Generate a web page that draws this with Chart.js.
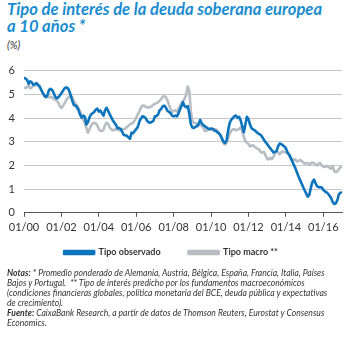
<!DOCTYPE html>
<html>
<head>
<meta charset="utf-8">
<script src="https://cdn.jsdelivr.net/npm/chart.js@4"></script>
<style>
  body { margin: 0; width: 351px; height: 338px; overflow: hidden; background: #fff; position: relative; font-family: Lato, "Open Sans", sans-serif; }
  #titulo { position: absolute; left: 7px; top: 0px; white-space: nowrap; font-weight: bold; font-style: italic; font-size: 17px; line-height: 17px; color: #1a8cd0; transform: scaleX(0.975); transform-origin: left top; }
  #unidad { position: absolute; left: 7px; top: 39px; font-style: italic; font-size: 10.5px; color: #333; }
  #grafico { position: absolute; left: 0; top: 55px; width: 351px; height: 230px; }
  #notas { position: absolute; left: 7px; top: 268px; white-space: nowrap; font-style: italic; font-size: 9.5px; line-height: 10px; color: #333; transform: scaleX(0.905); transform-origin: left top; }
</style>
</head>
<body>
<div id="titulo">Tipo de interés de la deuda soberana europea<br>a 10 años *</div>
<div id="unidad">(%)</div>
<div id="grafico"><canvas id="chart-area"></canvas></div>
<div id="notas">
<b>Notas:</b> * Promedio ponderado de Alemania, Austria, Bélgica, España, Francia, Italia, Países<br>
Bajos y Portugal. &nbsp;** Tipo de interés predicho por los fundamentos macroeconómicos<br>
(condiciones financieras globales, política monetaria del BCE, deuda pública y expectativas<br>
de crecimiento).<br>
<b>Fuente:</b> CaixaBank Research, a partir de datos de Thomson Reuters, Eurostat y Consensus<br>
Economics.
</div>
<script>
// monthly values, 01/2000 .. 01/2017
var observado = [
    5.71,5.66,5.60,5.44,5.55,5.50,5.40,5.43,5.47,5.40,5.33,5.20,
    5.07,4.95,4.88,4.96,5.18,5.23,5.18,5.07,4.90,4.83,4.87,4.95,
    5.04,5.15,5.25,5.29,5.27,5.15,4.95,4.72,4.55,4.53,4.45,4.33,
    4.13,4.02,4.10,4.05,3.73,3.82,4.02,4.15,4.20,4.25,4.35,4.40,
    4.27,4.32,4.20,4.10,4.33,4.43,4.30,4.15,4.03,3.90,3.80,3.71,
    3.57,3.58,3.53,3.42,3.28,3.27,3.25,3.18,3.13,3.38,3.36,3.45,
    3.53,3.62,3.85,3.98,4.07,4.05,4.00,3.88,3.82,3.80,3.84,3.88,
    4.07,4.08,4.15,4.33,4.38,4.50,4.52,4.44,4.30,4.26,4.20,4.10,
    4.07,4.10,4.07,4.18,4.35,4.50,4.67,4.50,4.45,4.50,4.20,3.75,
    3.60,3.58,3.63,3.65,3.75,3.92,3.78,3.70,3.66,3.60,3.56,3.53,
    3.56,3.55,3.48,3.45,3.40,3.35,3.28,3.14,3.00,2.95,3.07,3.50,
    3.80,3.93,4.00,4.08,4.10,4.00,4.05,3.90,3.65,3.40,3.72,4.05,
    3.95,3.72,3.57,3.52,3.48,3.42,3.36,3.32,3.28,3.18,3.07,2.98,
    2.90,2.80,2.72,2.64,2.55,2.57,2.60,2.80,2.92,2.90,2.85,2.80,
    2.72,2.55,2.46,2.35,2.20,2.03,1.90,1.72,1.55,1.40,1.25,1.10,
    0.95,0.82,0.68,0.75,1.05,1.30,1.40,1.25,1.12,1.08,1.09,1.07,
    0.97,0.90,0.87,0.81,0.72,0.63,0.46,0.37,0.40,0.53,0.78,0.85,
    0.87
];
var macro = [
    5.27,5.28,5.30,5.38,5.25,5.30,5.36,5.38,5.40,5.37,5.33,5.18,
    5.05,4.93,4.88,4.88,4.89,4.88,4.86,4.81,4.77,4.73,4.65,4.50,
    4.42,4.50,4.62,4.75,4.84,4.90,4.93,4.88,4.70,4.60,4.53,4.42,
    4.25,4.07,3.93,3.78,3.58,3.38,3.52,3.68,3.77,3.80,3.77,3.70,
    3.53,3.46,3.45,3.50,3.70,3.80,3.74,3.60,3.52,3.48,3.50,3.53,
    3.52,3.48,3.50,3.53,3.53,3.55,3.62,3.67,3.73,3.77,3.80,3.90,
    4.00,4.15,4.28,4.43,4.53,4.52,4.48,4.44,4.44,4.46,4.50,4.56,
    4.60,4.63,4.66,4.73,4.80,4.90,4.92,4.88,4.75,4.55,4.38,4.25,
    4.30,4.33,4.28,4.38,4.50,4.63,4.72,4.80,4.98,5.33,5.15,4.30,
    3.85,3.80,3.80,3.72,3.68,3.73,3.68,3.60,3.45,3.45,3.50,3.52,
    3.52,3.49,3.52,3.52,3.47,3.38,3.25,3.08,2.93,2.88,2.95,3.15,
    3.35,3.47,3.52,3.52,3.48,3.50,3.55,3.60,3.45,3.22,3.02,2.96,
    2.90,2.80,2.84,2.84,2.77,2.74,2.70,2.65,2.55,2.55,2.56,2.42,
    2.28,2.25,2.32,2.26,2.35,2.50,2.60,2.55,2.47,2.55,2.60,2.56,
    2.54,2.53,2.45,2.28,2.20,2.24,2.26,2.17,2.18,2.24,2.19,2.13,
    2.07,2.09,2.10,2.05,2.08,2.13,2.09,2.05,2.00,2.08,2.10,2.00,
    1.95,1.93,1.98,1.96,1.90,1.86,1.98,1.76,1.72,1.75,1.84,1.92,
    1.97
];
var series = ['Tipo observado', 'Tipo macro **'];
var xTicks = [0, 2, 4, 6, 8, 10, 12, 14, 16];
var xTickLabels = ['01/00', '01/02', '01/04', '01/06', '01/08', '01/10', '01/12', '01/14', '01/16'];
var yTicks = [0, 1, 2, 3, 4, 5, 6];

function puntos(arr) {
    return arr.map(function (v, i) { return { x: i / 12, y: v }; });
}

// legend padding also spaces the two items apart; pull the box back up afterwards
var subirLeyenda = {
    id: 'subirLeyenda',
    afterLayout: function (chart) {
        chart.legend.top -= 18;
        chart.legend.bottom -= 18;
    }
};

var config = {
    type: 'line',
    data: {
        datasets: [{
            label: series[0],
            data: puntos(observado),
            borderColor: '#0b74bc',
            backgroundColor: '#0b74bc',
            borderWidth: 2.6,
            pointRadius: 0,
            borderJoinStyle: 'round'
        }, {
            label: series[1],
            data: puntos(macro),
            borderColor: '#b6bdc3',
            backgroundColor: '#b6bdc3',
            borderWidth: 2.6,
            pointRadius: 0,
            borderJoinStyle: 'round'
        }]
    },
    options: {
        responsive: true,
        maintainAspectRatio: false,
        animation: false,
        layout: { padding: { top: 12, right: 9, left: 0, bottom: 0 } },
        scales: {
            x: {
                type: 'linear',
                min: 0,
                max: 17,
                afterBuildTicks: function (scale) {
                    scale.ticks = xTicks.map(function (v) { return { value: v }; });
                },
                grid: { drawOnChartArea: false, tickLength: 4, color: '#555' },
                border: { color: '#555', width: 1 },
                ticks: {
                    padding: 4,
                    maxRotation: 0,
                    autoSkip: false,
                    color: '#333',
                    font: { family: 'Lato', size: 11 },
                    callback: function (value) { return xTickLabels[xTicks.indexOf(value)]; }
                }
            },
            y: {
                min: 0,
                max: 6,
                afterBuildTicks: function (scale) {
                    scale.ticks = yTicks.map(function (v) { return { value: v }; });
                },
                afterFit: function (scale) { scale.width = 24; },
                grid: { drawTicks: false, color: '#c8c8c8', lineWidth: 1 },
                border: { display: false },
                ticks: {
                    padding: 9,
                    color: '#333',
                    font: { family: 'Lato', size: 11 }
                }
            }
        },
        plugins: {
            tooltip: { enabled: false },
            legend: {
                position: 'bottom',
                labels: {
                    boxWidth: 30,
                    boxHeight: 3,
                    padding: 28,
                    color: '#333',
                    font: { family: 'Lato', size: 9, weight: 'bold' }
                }
            }
        }
    },
    plugins: [subirLeyenda]
};

var ctx = document.getElementById('chart-area').getContext('2d');
var myLine = new Chart(ctx, config);
</script>
</body>
</html>
